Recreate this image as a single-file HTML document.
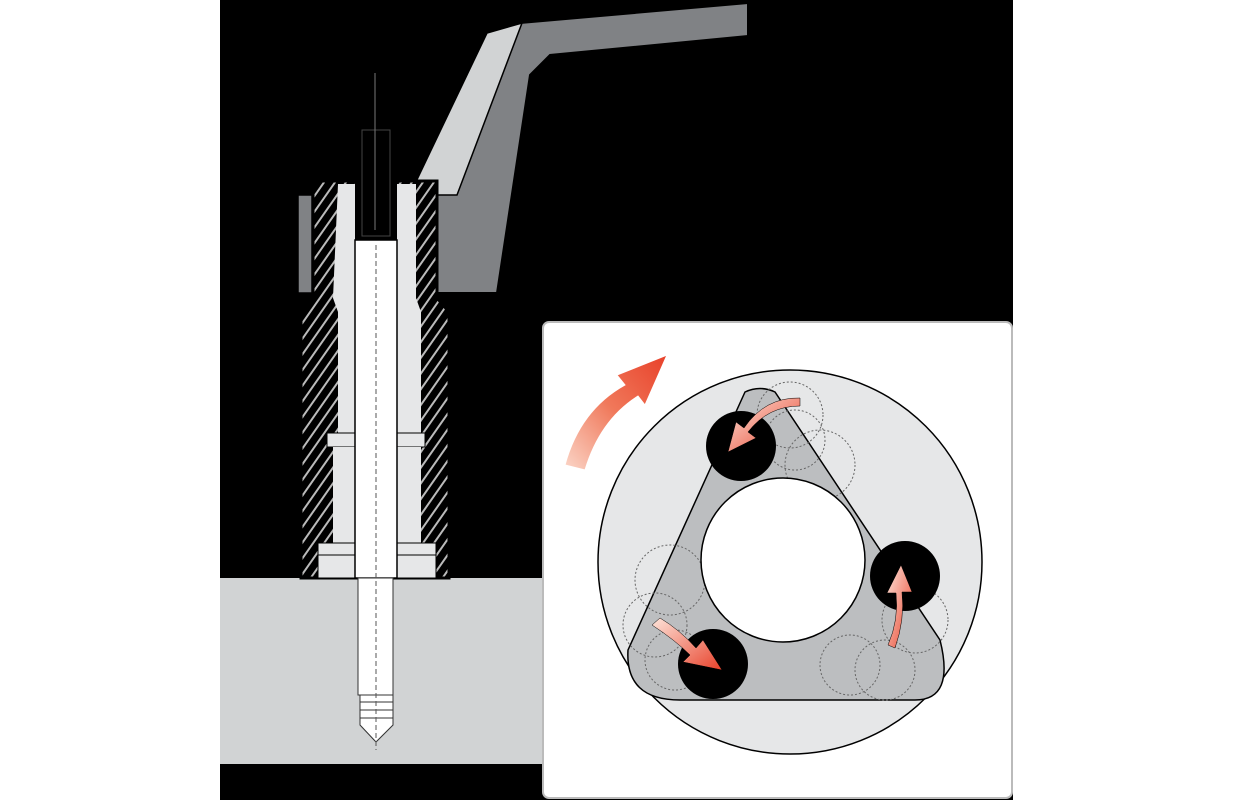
<!DOCTYPE html>
<html><head><meta charset="utf-8"><style>
html,body{margin:0;padding:0;background:#fff;}
svg{display:block;}
</style></head><body>
<svg width="1234" height="800" viewBox="0 0 1234 800" xmlns="http://www.w3.org/2000/svg">
<defs>
<pattern id="hatch" width="9" height="9" patternUnits="userSpaceOnUse" patternTransform="rotate(35)">
<rect width="9" height="9" fill="#000"/>
<rect x="0" y="0" width="2" height="9" fill="#bbb"/>
</pattern>
<linearGradient id="rg" x1="0" y1="1" x2="1" y2="0">
<stop offset="0" stop-color="#fbd6c8"/><stop offset="0.5" stop-color="#f0785a"/><stop offset="1" stop-color="#e8412a"/>
</linearGradient>
<linearGradient id="rg2" x1="0" y1="0" x2="1" y2="1">
<stop offset="0" stop-color="#fde4da"/><stop offset="1" stop-color="#e8412a"/>
</linearGradient>
</defs>
<rect x="220" y="0" width="793" height="800" fill="#000"/>
<!-- gray block -->
<rect x="220" y="578" width="323" height="186" fill="#d1d3d4"/>
<!-- handle -->
<polygon points="437,195 520,23 748,3 748,36 550,55 530,75 497,293 437,293" fill="#808285" stroke="#000" stroke-width="2"/>
<polygon points="412,190 487,33 522,23 457,195 437,195 437,190" fill="#d1d3d4" stroke="#000" stroke-width="1.5"/>
<rect x="298" y="195" width="14" height="98" fill="#808285" stroke="#000" stroke-width="1.5"/>
<!-- collet body -->
<path d="M313,181 H437 V298 L449,312 V578 H301 V312 L313,298 Z" fill="url(#hatch)" stroke="#000" stroke-width="3"/>
<!-- bore -->
<path d="M338,184 H416 V298 L421,312 V433 H338 V312 L333,298 Z" fill="#e6e7e8"/>
<rect x="327" y="433" width="98" height="14" fill="#e6e7e8" stroke="#000" stroke-width="1"/>
<rect x="333" y="447" width="88" height="96" fill="#e6e7e8"/>
<rect x="318" y="543" width="118" height="35" fill="#e6e7e8" stroke="#000" stroke-width="1"/>
<line x1="318" y1="555" x2="436" y2="555" stroke="#000" stroke-width="1"/>
<!-- pin -->
<rect x="355" y="240" width="42" height="338" fill="#fff" stroke="#000" stroke-width="1.5"/>
<path d="M355,240 V124 Q355,118 361,118 H391 Q397,118 397,124 V240 Z" fill="#000"/>
<rect x="362" y="130" width="28" height="106" fill="none" stroke="#444" stroke-width="1"/>
<line x1="375" y1="73" x2="375" y2="230" stroke="#777" stroke-width="1"/>
<!-- lower pin -->
<path d="M358,578 V695 H393 V578 Z" fill="#fff" stroke="#333" stroke-width="1"/>
<path d="M360,695 H393 V725 L376,742 L360,725 Z" fill="#fff" stroke="#333" stroke-width="1"/>
<line x1="360" y1="702" x2="393" y2="702" stroke="#333"/><line x1="360" y1="710" x2="393" y2="710" stroke="#333"/><line x1="360" y1="718" x2="393" y2="718" stroke="#333"/>
<line x1="376" y1="245" x2="376" y2="750" stroke="#555" stroke-width="1" stroke-dasharray="5,3"/>
<!-- inset -->
<rect x="543" y="322" width="469" height="476" rx="6" fill="#fff" stroke="#bbb" stroke-width="2"/>
<circle cx="790" cy="562" r="192" fill="#e6e7e8" stroke="#000" stroke-width="1.5"/>
<path d="M745,392 Q760,385 775,392 L940,640 Q955,700 915,700 L680,700 Q625,700 628,650 Z" fill="#bcbec0" stroke="#000" stroke-width="1.5"/>
<g fill="none" stroke="#666" stroke-width="1" stroke-dasharray="2,2">
<circle cx="790" cy="415" r="33"/><circle cx="820" cy="465" r="35"/><circle cx="795" cy="440" r="30"/>
<circle cx="670" cy="580" r="35"/><circle cx="655" cy="625" r="32"/><circle cx="675" cy="660" r="30"/>
<circle cx="915" cy="620" r="33"/><circle cx="885" cy="670" r="30"/><circle cx="850" cy="665" r="30"/>
</g>
<circle cx="783" cy="560" r="82" fill="#fff" stroke="#000" stroke-width="1.5"/>
<circle cx="741" cy="446" r="35" fill="#000"/>
<circle cx="905" cy="576" r="35" fill="#000"/>
<circle cx="713" cy="664" r="35" fill="#000"/>
<!-- small arrows -->
<path d="M800,406 Q768,406 748,432 L756,438 L728,452 L736,422 L744,428 Q765,397 800,398 Z" fill="url(#rg2)" stroke="#000" stroke-width="0.5"/>
<path d="M895,648 Q905,620 902,592 L912,592 L901,565 L887,593 L896,593 Q899,620 888,645 Z" fill="url(#rg2)" stroke="#000" stroke-width="0.5"/>
<path d="M652,625 Q675,640 690,655 L683,662 L722,670 L703,640 L696,648 Q680,630 660,618 Z" fill="url(#rg2)" stroke="#000" stroke-width="0.5"/>
<!-- big arrow -->
<path d="M565,465 Q580,410 625,385 L617,375 L667,355 L645,405 L638,396 Q600,420 585,470 Z" fill="url(#rg)" stroke="#fff" stroke-width="1"/>
</svg>
</body></html>
